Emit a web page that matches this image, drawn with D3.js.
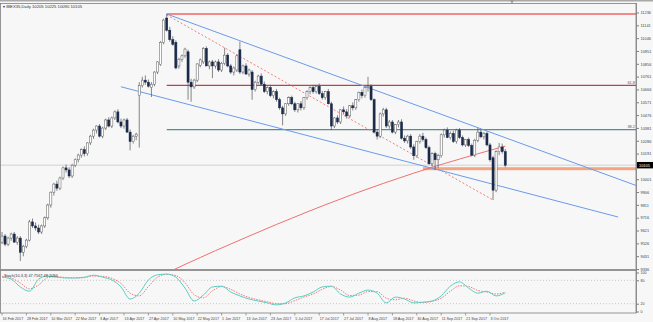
<!DOCTYPE html>
<html>
<head>
<meta charset="utf-8">
<script src="https://cdn.jsdelivr.net/npm/d3@7"></script>
<style>
  html, body { margin: 0; padding: 0; background: #f7f7f7; }
  svg { display: block; font-family: "Liberation Sans", Arial, sans-serif; }
</style>
</head>
<body>
<svg id="chart" width="653" height="322"></svg>
<script>
// ---- data -------------------------------------------------------------
const symbol = "IBEX35,Daily";

// daily candles, one per trading day from 16 Feb 2017: [open, high, low, close]
const candles = [
  [9535,9610,9520,9580],[9580,9595,9505,9520],[9520,9575,9505,9565],[9565,9605,9545,9595],
  [9595,9610,9530,9535],[9535,9580,9515,9565],[9565,9580,9395,9460],[9460,9515,9430,9505],
  [9505,9560,9490,9550],[9550,9700,9540,9685],[9685,9710,9640,9655],[9655,9680,9620,9640],
  [9640,9665,9595,9610],[9610,9665,9595,9655],[9655,9725,9640,9715],[9715,9820,9700,9810],
  [9810,9910,9790,9905],[9905,9975,9880,9965],[9965,9990,9915,9935],[9935,10020,9920,10010],
  [10010,10095,9995,10085],[10085,10110,10050,10070],[10070,10090,10010,10025],[10025,10115,10010,10105],
  [10105,10155,10090,10145],[10145,10190,10125,10180],[10180,10230,10160,10220],[10220,10245,10170,10190],
  [10190,10275,10175,10270],[10270,10330,10255,10320],[10320,10375,10300,10365],[10365,10400,10340,10395],
  [10395,10410,10310,10320],[10320,10390,10305,10380],[10380,10450,10365,10440],[10440,10460,10385,10395],
  [10395,10465,10380,10455],[10455,10510,10440,10500],[10500,10520,10415,10425],[10425,10450,10380,10395],
  [10395,10450,10375,10440],[10440,10455,10345,10350],[10350,10370,10215,10280],[10280,10330,10265,10320],
  [10320,10345,10290,10335],[10620,10720,10235,10695],[10695,10760,10680,10735],[10735,10770,10700,10720],
  [10720,10740,10680,10690],[10680,10720,10610,10705],[10705,10800,10690,10795],[10795,10875,10780,10870],
  [10850,11025,10840,11015],[11015,11190,11000,11180],[11195,11225,11095,11105],[11105,11130,11020,11035],
  [11035,11060,10990,11000],[11015,11030,10815,10825],[10840,10900,10820,10890],[10890,10925,10870,10915],
  [10915,10975,10900,10965],[10945,10960,10590,10720],[10720,10745,10575,10685],[10685,10745,10670,10735],
  [10735,10860,10720,10855],[10845,10895,10830,10885],[10870,10980,10855,10970],[10970,10985,10840,10840],
  [10840,10880,10815,10870],[10870,10885,10750,10840],[10840,10880,10820,10870],[10870,10890,10795,10810],
  [10810,10870,10795,10860],[10860,10975,10845,10920],[10920,10935,10830,10840],[10840,10855,10780,10795],
  [10795,10835,10770,10825],[10810,10925,10795,10915],[10960,11020,10780,10795],[10795,10850,10780,10840],
  [10840,10860,10775,10780],[10780,10820,10760,10810],[10795,10810,10590,10665],[10665,10730,10650,10720],
  [10720,10775,10705,10765],[10765,10785,10700,10705],[10705,10725,10640,10650],[10650,10690,10630,10680],
  [10680,10700,10610,10620],[10620,10660,10600,10650],[10650,10670,10575,10590],[10590,10605,10515,10530],
  [10530,10545,10400,10485],[10485,10565,10470,10560],[10560,10615,10545,10605],[10605,10620,10550,10560],
  [10560,10575,10500,10515],[10515,10565,10495,10560],[10560,10580,10510,10530],[10530,10610,10515,10605],
  [10605,10660,10590,10650],[10650,10690,10630,10680],[10680,10700,10635,10650],[10650,10700,10635,10690],
  [10690,10710,10625,10635],[10635,10655,10590,10605],[10605,10655,10590,10650],[10650,10670,10555,10560],
  [10560,10575,10365,10395],[10395,10460,10380,10455],[10455,10475,10410,10425],[10425,10520,10410,10515],
  [10515,10540,10480,10500],[10500,10520,10450,10470],[10470,10550,10455,10545],[10545,10570,10510,10530],
  [10530,10595,10515,10590],[10590,10650,10575,10645],[10645,10665,10600,10620],[10620,10685,10605,10680],
  [10680,10760,10650,10690],[10690,10705,10580,10590],[10590,10600,10340,10350],[10350,10370,10295,10320],
  [10320,10495,10305,10485],[10485,10530,10465,10515],[10515,10530,10380,10395],[10395,10440,10375,10425],
  [10425,10440,10340,10350],[10350,10410,10335,10405],[10405,10440,10385,10425],[10425,10445,10295,10305],
  [10305,10325,10270,10285],[10285,10330,10265,10320],[10320,10335,10225,10240],[10240,10260,10145,10175],
  [10175,10285,10160,10280],[10280,10335,10265,10320],[10320,10345,10280,10295],[10295,10310,10225,10235],
  [10235,10250,10110,10115],[10115,10200,10095,10190],[10190,10205,10070,10145],[10145,10190,10085,10175],
  [10175,10340,10160,10330],[10330,10375,10310,10365],[10365,10385,10305,10310],[10310,10355,10295,10340],
  [10340,10360,10270,10280],[10280,10375,10265,10365],[10365,10380,10300,10310],[10310,10325,10245,10255],
  [10255,10300,10240,10295],[10295,10310,10240,10250],[10250,10265,10170,10180],[10180,10300,10165,10290],
  [10290,10380,10275,10350],[10350,10370,10305,10315],[10315,10350,10295,10340],[10340,10355,10245,10255],
  [10255,10270,10130,10145],[10160,10175,9847,9920],[9920,10215,9905,10205],[10205,10270,10180,10240],
  [10240,10265,10190,10205],[10205,10225,10090,10105]
];

// x-axis labels, one every eight trading days starting at the first bar
const dateLabels = ["16 Feb 2017","28 Feb 2017","10 Mar 2017","22 Mar 2017","3 Apr 2017",
  "13 Apr 2017","27 Apr 2017","10 May 2017","22 May 2017","1 Jun 2017","13 Jun 2017",
  "23 Jun 2017","5 Jul 2017","17 Jul 2017","27 Jul 2017","8 Aug 2017","18 Aug 2017",
  "30 Aug 2017","11 Sep 2017","21 Sep 2017","3 Oct 2017"];
const dateLabelEvery = 8;

// price axis labels
const priceTicks = [9336,9431,9526,9621,9716,9811,9906,10001,10096,10191,10286,
  10381,10476,10571,10666,10761,10856,10951,11046,11141,11236];

// 200-day moving average, one value every 5 bars from bar 55
const maStartBar = 55, maEvery = 5;
const maValues = [9317,9370,9421,9472,9521,9570,9618,9666,9712,9758,9803,9846,
  9889,9930,9970,10008,10046,10082,10117,10150,10183,10215,10246];

// Fibonacci retracement (drawn from the May top)
const fibStartBar = 54, fibHigh = 11225, fibLow = 9840;
const fibRatios = [1.0, 0.618, 0.382];
const fibLabels = ["", "61.8", "38.2"];

// trend lines: [bar, price] anchors
const upperChannel = [[54, 11225], [156, 10383]];   // extended to the right edge
const lowerChannel = [[39, 10686], [202, 9721]];
const dashedTrend  = [[54, 11218], [161, 9847]];

// support zone
const supportZone = { fromBar: 138, low: 10068, high: 10090 };

// Stochastic(10,3,3), one value every 3 bars
const stochEvery = 3;
const stochMain = [88,83,63,52,83,91,88,86,86,88,93,88,81,63,32,47,81,94,96,88,60,27,42,63,
  65,50,40,32,27,22,17,22,35,40,50,63,65,45,37,47,55,47,22,37,32,22,24,27,40,65,76,60,47,52,40,47.7567];
const stochSignal = [90,86,73,58,68,87,89,87,86,87,91,90,85,72,47,40,64,88,95,92,74,43,35,53,
  64,57,45,36,30,25,20,20,28,37,45,57,64,55,41,42,51,51,34,30,34,27,23,26,34,52,66,64,54,50,45,49.2094];
const stochLevels = [80, 20];

// ---- layout -----------------------------------------------------------
const W = 653, H = 322;
const plotRight = 636;
const main = { top: 3, bottom: 269 };
const sub  = { top: 270.5, bottom: 313 };
const FS = 3.9;   // axis text size

const svg = d3.select("#chart");
svg.append("rect").attr("width", W).attr("height", H).attr("fill", "#f7f7f7");

const x = d3.scaleLinear().domain([0, 1]).range([2, 5.05]);
const y = d3.scaleLinear().domain([9336, 11236]).range([269, 12.5]);
const ys = d3.scaleLinear().domain([0, 100]).range([311.5, 272.5]);

const defs = svg.append("defs");
defs.append("clipPath").attr("id", "clipMain").append("rect")
  .attr("x", 0).attr("y", main.top).attr("width", plotRight).attr("height", main.bottom - main.top);
defs.append("clipPath").attr("id", "clipSub").append("rect")
  .attr("x", 0).attr("y", sub.top).attr("width", plotRight).attr("height", sub.bottom - sub.top);

// top strip and chart-shift marker
svg.append("rect").attr("x", 0).attr("y", 0).attr("width", W).attr("height", 1.5).attr("fill", "#a9a9a9");
svg.append("path").attr("d", "M510,0 L514,0 L512,4 Z").attr("fill", "#9a9a9a");

const gMain = svg.append("g").attr("clip-path", "url(#clipMain)");

// current price line
const last = candles[candles.length - 1];
gMain.append("line")
  .attr("x1", 0).attr("x2", plotRight)
  .attr("y1", y(last[3])).attr("y2", y(last[3]))
  .attr("stroke", "#d2d2d2").attr("stroke-width", 1);

// Fibonacci levels
const fibColors = ["#f28a8a", "#b9405a", "#4f8f96"];
const fibWidths = [2, 1.3, 1.3];
fibRatios.forEach((r, i) => {
  const p = fibLow + r * (fibHigh - fibLow);
  gMain.append("line")
    .attr("x1", x(fibStartBar)).attr("x2", plotRight)
    .attr("y1", y(p)).attr("y2", y(p))
    .attr("stroke", fibColors[i]).attr("stroke-width", fibWidths[i]);
  if (fibLabels[i]) {
    gMain.append("text")
      .attr("x", plotRight - 1).attr("y", y(p) - 1.5)
      .attr("text-anchor", "end").attr("font-size", FS)
      .attr("fill", "#555").text(fibLabels[i]);
  }
});

// support zone
gMain.append("rect")
  .attr("x", x(supportZone.fromBar)).attr("width", plotRight - x(supportZone.fromBar))
  .attr("y", y(supportZone.high)).attr("height", y(supportZone.low) - y(supportZone.high))
  .attr("fill", "#f4a47e");

// moving average
const maLine = d3.line()
  .x((d, i) => x(maStartBar + i * maEvery))
  .y(d => y(d))
  .curve(d3.curveMonotoneX);
gMain.append("path").datum(maValues)
  .attr("d", maLine).attr("fill", "none")
  .attr("stroke", "#f07070").attr("stroke-width", 1);

// trend lines
function seg(a, b, extend) {
  let x2 = x(b[0]), y2 = y(b[1]);
  if (extend) {
    const slope = (b[1] - a[1]) / (b[0] - a[0]);
    const endBar = x.invert(plotRight);
    x2 = plotRight; y2 = y(a[1] + slope * (endBar - a[0]));
  }
  return [x(a[0]), y(a[1]), x2, y2];
}
function drawLine(pts, extend, color, dash) {
  const [x1, y1, x2, y2] = seg(pts[0], pts[1], extend);
  gMain.append("line").attr("x1", x1).attr("y1", y1).attr("x2", x2).attr("y2", y2)
    .attr("stroke", color).attr("stroke-width", 1)
    .attr("stroke-dasharray", dash || null);
}
drawLine(dashedTrend, false, "#f28080", "2,2");
drawLine(upperChannel, true, "#6b9be9");
drawLine(lowerChannel, false, "#6b9be9");

// candles
const cg = gMain.append("g");
cg.selectAll("line.wick").data(candles).join("line")
  .attr("class", "wick")
  .attr("x1", (d, i) => x(i)).attr("x2", (d, i) => x(i))
  .attr("y1", d => y(d[1])).attr("y2", d => y(d[2]))
  .attr("stroke", "#555").attr("stroke-width", 0.7);
cg.selectAll("rect.body").data(candles).join("rect")
  .attr("class", "body")
  .attr("x", (d, i) => x(i) - 1.05).attr("width", 2.1)
  .attr("y", d => y(Math.max(d[0], d[3])))
  .attr("height", d => Math.max(0.8, Math.abs(y(d[0]) - y(d[3]))))
  .attr("fill", d => d[3] >= d[0] ? "#ffffff" : "#1b2a4a")
  .attr("stroke", d => d[3] >= d[0] ? "#5a5a5a" : "#1b2a4a")
  .attr("stroke-width", 0.5);

// title
svg.append("text").attr("x", 3).attr("y", 7.5).attr("font-size", 4.2).attr("fill", "#333")
  .text("\u25BE " + symbol + " " + last.join(" "));

// ---- stochastic panel ---------------------------------------------------
const gSub = svg.append("g").attr("clip-path", "url(#clipSub)");
stochLevels.forEach(v => {
  gSub.append("line").attr("x1", 0).attr("x2", plotRight)
    .attr("y1", ys(v)).attr("y2", ys(v))
    .attr("stroke", "#b0b0b0").attr("stroke-width", 0.7).attr("stroke-dasharray", "1,2");
});
const sLine = d3.line()
  .x((d, i) => x(i * stochEvery)).y(d => ys(d))
  .curve(d3.curveMonotoneX);
gSub.append("path").datum(stochSignal).attr("d", sLine).attr("fill", "none")
  .attr("stroke", "#f07878").attr("stroke-width", 1).attr("stroke-dasharray", "1.5,1.2");
gSub.append("path").datum(stochMain).attr("d", sLine).attr("fill", "none")
  .attr("stroke", "#5ccdc3").attr("stroke-width", 1);
svg.append("text").attr("x", 4).attr("y", 276.5).attr("font-size", FS).attr("fill", "#333")
  .text("Stoch(10,3,3) " + stochMain[stochMain.length - 1].toFixed(4) + " " +
        stochSignal[stochSignal.length - 1].toFixed(4));

// ---- frames and axes ----------------------------------------------------
const frame = "#7d7d7d";
svg.append("rect").attr("x", 0.5).attr("y", main.top + 0.5)
  .attr("width", plotRight - 0.5).attr("height", main.bottom - main.top)
  .attr("fill", "none").attr("stroke", frame).attr("stroke-width", 0.8);
svg.append("rect").attr("x", 0.5).attr("y", sub.top)
  .attr("width", plotRight - 0.5).attr("height", sub.bottom - sub.top)
  .attr("fill", "none").attr("stroke", frame).attr("stroke-width", 0.8);

// price axis
const yAxis = d3.axisRight(y).tickValues(priceTicks).tickSize(2.5).tickPadding(1.5)
  .tickFormat(d3.format("d"));
const gy = svg.append("g").attr("transform", `translate(${plotRight + 0.5},0)`).call(yAxis);
gy.select(".domain").remove();
gy.selectAll("line").attr("stroke", frame);
gy.selectAll("text").attr("font-size", FS).attr("fill", "#444")
  .attr("font-family", "Liberation Sans, Arial, sans-serif");
svg.append("line").attr("x1", plotRight + 0.5).attr("x2", plotRight + 0.5)
  .attr("y1", main.top).attr("y2", sub.bottom).attr("stroke", frame).attr("stroke-width", 0.8);

// current price box
const cy = y(last[3]);
svg.append("rect").attr("x", plotRight + 1).attr("y", cy - 3.2).attr("width", W - plotRight - 1)
  .attr("height", 6.4).attr("fill", "#000");
svg.append("text").attr("x", plotRight + 3).attr("y", cy + 1.4).attr("font-size", FS)
  .attr("fill", "#fff").text(d3.format("d")(last[3]));

// stochastic axis
const sAxis = d3.axisRight(ys).tickValues([100, 80, 20, 0]).tickSize(2.5).tickPadding(1.5);
const gs = svg.append("g").attr("transform", `translate(${plotRight + 0.5},0)`).call(sAxis);
gs.select(".domain").remove();
gs.selectAll("line").attr("stroke", frame);
gs.selectAll("text").attr("font-size", 3.6).attr("fill", "#444")
  .attr("font-family", "Liberation Sans, Arial, sans-serif");

// date axis
const gd = svg.append("g");
dateLabels.forEach((t, k) => {
  const bx = x(k * dateLabelEvery);
  gd.append("line").attr("x1", bx).attr("x2", bx).attr("y1", sub.bottom).attr("y2", sub.bottom + 2.5)
    .attr("stroke", frame).attr("stroke-width", 0.7);
  gd.append("text").attr("x", bx + 0.5).attr("y", 319.5).attr("font-size", 3.7).attr("fill", "#444").text(t);
});
</script>
</body>
</html>
